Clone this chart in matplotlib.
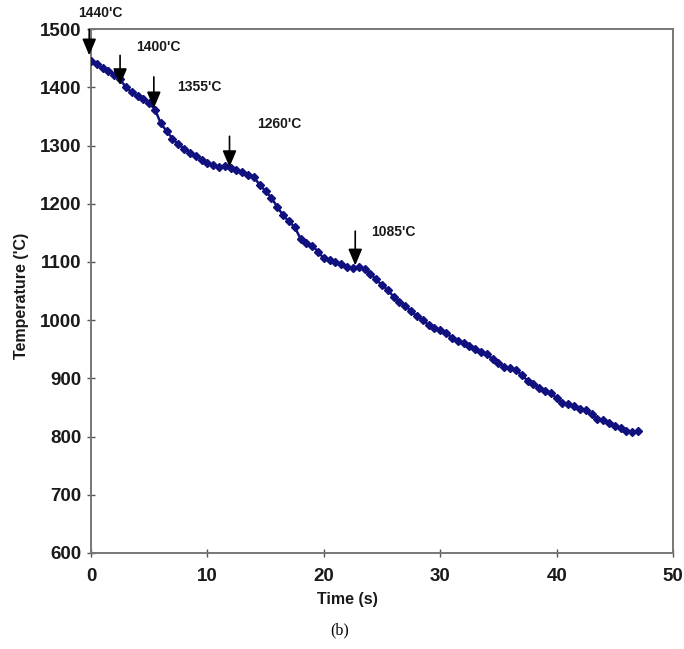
import matplotlib
matplotlib.use("Agg")
import matplotlib.pyplot as plt
import numpy as np

# Cooling curve, sampled every 0.5 s
time_s = np.arange(0, 47.01, 0.5)
temperature_c = [
    1445, 1440, 1433, 1428, 1422, 1414, 1400, 1392, 1385, 1380,
    1373, 1362, 1338, 1325, 1312, 1302, 1295, 1288, 1282, 1276,
    1270, 1266, 1264, 1265, 1262, 1258, 1255, 1250, 1246, 1232,
    1222, 1210, 1195, 1180, 1170, 1160, 1140, 1132, 1128, 1118,
    1106, 1103, 1100, 1096, 1092, 1090, 1092, 1088, 1080, 1070,
    1060, 1052, 1040, 1032, 1025, 1015, 1007, 1000, 992, 986,
    983, 978, 970, 964, 960, 955, 950, 946, 942, 933,
    926, 920, 917, 914, 906, 896, 890, 884, 878, 874,
    866, 858, 856, 852, 848, 845, 838, 830, 828, 823,
    818, 814, 810, 808, 809,
]

# Arrow annotations: label, arrow x, arrow tail, arrow tip, text position
arrow_labels = ["1440'C", "1400'C", "1355'C", "1260'C", "1085'C"]
arrow_x = [-0.15, 2.5, 5.4, 11.9, 22.7]
arrow_tail = [1500, 1455, 1418, 1316, 1153]
arrow_tip = [1455, 1404, 1364, 1263, 1094]
label_x = [-1.1, 3.9, 7.4, 14.3, 24.1]
label_y = [1527, 1469, 1400, 1337, 1151]

x_ticks = [0, 10, 20, 30, 40, 50]
y_ticks = [600, 700, 800, 900, 1000, 1100, 1200, 1300, 1400, 1500]

plt.rcParams["font.family"] = ["Liberation Sans", "DejaVu Sans"]

fig = plt.figure(figsize=(6.84, 6.49), dpi=100)
ax = fig.add_axes([0.133, 0.148, 0.851, 0.807])

navy = "#10107e"
ax.plot(time_s, temperature_c, color=navy, lw=1.8, marker="D",
        markersize=4.2, markerfacecolor=navy, markeredgecolor=navy, zorder=3)

for lab, xa, yt, yh, lx, ly in zip(arrow_labels, arrow_x, arrow_tail,
                                    arrow_tip, label_x, label_y):
    ax.annotate("", xy=(xa, yh), xytext=(xa, yt), annotation_clip=False,
                arrowprops=dict(arrowstyle="-|>,head_length=1.0,head_width=0.42",
                                color="black", lw=1.2, shrinkA=0, shrinkB=0),
                zorder=4)
    ax.text(lx, ly, lab, fontsize=10, fontweight="bold", ha="left",
            va="center", color="#1a1a1a", clip_on=False)

ax.set_xlim(0, 50)
ax.set_ylim(600, 1500)
ax.set_xticks(x_ticks)
ax.set_yticks(y_ticks)
ax.tick_params(axis="both", direction="inout", length=6, width=1,
               color="#555555", labelsize=13.5)
ax.tick_params(axis="x", pad=8)
ax.tick_params(axis="y", pad=4)
for lbl in ax.get_xticklabels() + ax.get_yticklabels():
    lbl.set_fontweight("bold")
    lbl.set_color("#1a1a1a")
for sp in ax.spines.values():
    sp.set_color("#777777")
    sp.set_linewidth(1.4)

ax.set_xlabel("Time (s)", fontsize=11.5, fontweight="bold", color="#1a1a1a")
ax.xaxis.set_label_coords(0.44, -0.075)
ax.set_ylabel("Temperature ('C)", fontsize=11.5, fontweight="bold", color="#1a1a1a")
ax.yaxis.set_label_coords(-0.106, 0.49)

fig.text(0.497, 0.029, "(b)", fontsize=11.5, family=["Liberation Serif", "DejaVu Serif"],
         ha="center", va="center")

fig.savefig("out.png", dpi=100)
